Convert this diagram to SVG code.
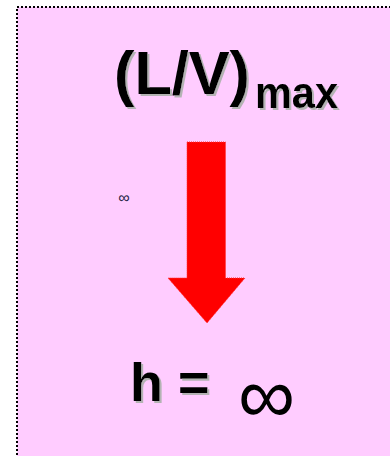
<svg xmlns="http://www.w3.org/2000/svg" width="390" height="456" viewBox="0 0 390 456">
<defs>
<filter id="shadow" x="-10%" y="-10%" width="130%" height="130%">
<feFlood flood-color="#b3b3b3" result="c"/>
<feComposite in="c" in2="SourceAlpha" operator="in" result="s"/>
<feOffset in="s" dx="2" dy="2" result="o"/>
<feMerge><feMergeNode in="o"/><feMergeNode in="SourceGraphic"/></feMerge>
</filter>
</defs>
<style>
.b{font-family:"Liberation Sans",Arial,sans-serif;font-weight:bold;fill:#000}
</style>
<rect width="390" height="456" fill="#fff"/>
<g id="panel">
<rect x="17" y="7" width="380" height="460" fill="#ffccff" stroke="#000" stroke-width="2" stroke-dasharray="2 2"/>
</g>
<g id="title" filter="url(#shadow)">
<text class="b" x="114" y="94" font-size="62" textLength="136" lengthAdjust="spacingAndGlyphs">(L/V)</text>
<text class="b" x="255" y="108" font-size="44" textLength="83" lengthAdjust="spacingAndGlyphs">max</text>
</g>
<g id="arrow">
<polygon points="187,142 225.5,142 225.5,278 245,278 207,323 168,278 187,278" fill="#ff0000" stroke="#ff3333" stroke-width="1" stroke-dasharray="1 1"/>
</g>
<g id="small-inf">
<text x="124" y="203" font-family="Liberation Sans,sans-serif" font-size="16" fill="#222244" text-anchor="middle">∞</text>
</g>
<g id="result">
<text class="b" x="130" y="401" font-size="54" filter="url(#shadow)">h =</text>
<text x="266.5" y="423" font-family="Liberation Sans,sans-serif" font-size="80" text-anchor="middle" fill="#000">∞</text>
</g>
</svg>
